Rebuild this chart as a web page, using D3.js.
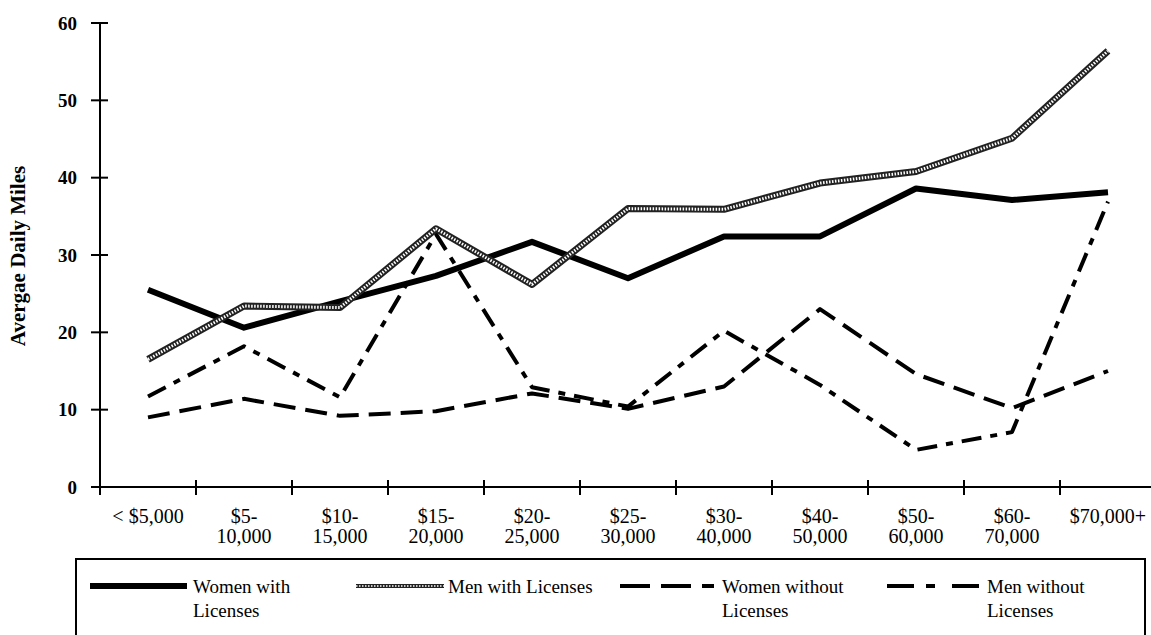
<!DOCTYPE html>
<html>
<head>
<meta charset="utf-8">
<script src="https://cdn.jsdelivr.net/npm/d3@7"></script>
<style>
  html, body { margin: 0; padding: 0; background: #fff; }
  svg { display: block; }
  text { font-family: "Liberation Serif", "Times New Roman", serif; fill: #000; }
</style>
</head>
<body>
<svg id="chart" width="1151" height="635"></svg>
<script>
// ---- data ----
const categories = ["< $5,000", "$5-\n10,000", "$10-\n15,000", "$15-\n20,000", "$20-\n25,000",
  "$25-\n30,000", "$30-\n40,000", "$40-\n50,000", "$50-\n60,000", "$60-\n70,000", "$70,000+"];
const womenWithLicenses   = [25.5, 20.6, 24.0, 27.3, 31.7, 27.0, 32.4, 32.4, 38.6, 37.1, 38.1];
const menWithLicenses     = [16.5, 23.4, 23.2, 33.4, 26.2, 36.0, 35.9, 39.3, 40.8, 45.1, 56.4];
const womenWithoutLicenses= [9.0, 11.4, 9.2, 9.8, 12.1, 10.1, 13.0, 23.0, 14.6, 10.2, 15.0];
const menWithoutLicenses  = [11.7, 18.2, 11.6, 32.7, 12.9, 10.4, 20.2, 13.2, 4.8, 7.1, 36.9];
const yTicks = [0, 10, 20, 30, 40, 50, 60];
const seriesNames = ["Women with\nLicenses", "Men with Licenses", "Women without\nLicenses", "Men without\nLicenses"];

// ---- layout ----
const svg = d3.select("#chart");
const x = d3.scaleBand().domain(categories).range([100, 1156]);
const y = d3.scaleLinear().domain([0, 60]).range([487, 23]);

// axes
const g = svg.append("g");
g.append("line").attr("x1", 100).attr("x2", 100).attr("y1", y(60)).attr("y2", y(0) + 8)
  .attr("stroke", "#000").attr("stroke-width", 2);
g.append("line").attr("x1", 92).attr("x2", 1151).attr("y1", y(0)).attr("y2", y(0))
  .attr("stroke", "#000").attr("stroke-width", 2);

// y ticks
yTicks.forEach(v => {
  g.append("line").attr("x1", 91).attr("x2", 108).attr("y1", y(v)).attr("y2", y(v))
    .attr("stroke", "#000").attr("stroke-width", 2);
  g.append("text").attr("x", 77).attr("y", y(v)).attr("dy", "0.35em")
    .attr("text-anchor", "end").attr("font-size", 19).attr("font-weight", "bold").text(v);
});

// x ticks at band boundaries
categories.forEach((c, i) => {
  const bx = x(c);
  if (i > 0) {
    g.append("line").attr("x1", bx).attr("x2", bx).attr("y1", y(0) - 7).attr("y2", y(0) + 8)
      .attr("stroke", "#000").attr("stroke-width", 2);
  }
  const cx = bx + x.bandwidth() / 2;
  const lines = c.split("\n");
  const t = g.append("text").attr("text-anchor", "middle").attr("font-size", 20);
  lines.forEach((ln, j) => {
    t.append("tspan").attr("x", cx).attr("y", 523 + j * 20).text(ln);
  });
});

// y title
svg.append("text")
  .attr("transform", "translate(25,256) rotate(-90)")
  .attr("text-anchor", "middle").attr("font-size", 21).attr("font-weight", "bold")
  .text("Avergae Daily Miles");

// ---- lines ----
const cx = (i) => x(categories[i]) + x.bandwidth() / 2;
const lineGen = d3.line().x((d, i) => cx(i)).y(d => y(d));

const plot = svg.append("g").attr("fill", "none").attr("stroke-linejoin", "round");

plot.append("path").datum(womenWithoutLicenses).attr("d", lineGen)
  .attr("stroke", "#000").attr("stroke-width", 4).attr("stroke-dasharray", "22,10");
plot.append("path").datum(menWithoutLicenses).attr("d", lineGen)
  .attr("stroke", "#000").attr("stroke-width", 4).attr("stroke-dasharray", "20,9,7,9");
plot.append("path").datum(womenWithLicenses).attr("d", lineGen)
  .attr("stroke", "#000").attr("stroke-width", 6);
plot.append("path").datum(menWithLicenses).attr("d", lineGen)
  .attr("stroke", "#222").attr("stroke-width", 7);
plot.append("path").datum(menWithLicenses).attr("d", lineGen)
  .attr("stroke", "#fff").attr("stroke-width", 3).attr("stroke-dasharray", "1.5,1.5");

// ---- legend ----
const leg = svg.append("g");
leg.append("rect").attr("x", 76).attr("y", 559).attr("width", 1069).attr("height", 100)
  .attr("fill", "none").attr("stroke", "#000").attr("stroke-width", 2);

const legendItems = [
  { x1: 90, x2: 187, tx: 193, style: "women" },
  { x1: 356, x2: 444, tx: 448, style: "men" },
  { x1: 620, x2: 714, tx: 722, style: "womenNo" },
  { x1: 887, x2: 982, tx: 987, style: "menNo" }
];
legendItems.forEach((it, i) => {
  const ly = 586;
  if (it.style === "women") {
    leg.append("line").attr("x1", it.x1).attr("x2", it.x2).attr("y1", ly).attr("y2", ly)
      .attr("stroke", "#000").attr("stroke-width", 6);
  } else if (it.style === "men") {
    leg.append("line").attr("x1", it.x1).attr("x2", it.x2).attr("y1", ly).attr("y2", ly)
      .attr("stroke", "#222").attr("stroke-width", 4);
    leg.append("line").attr("x1", it.x1).attr("x2", it.x2).attr("y1", ly).attr("y2", ly)
      .attr("stroke", "#fff").attr("stroke-width", 1.5).attr("stroke-dasharray", "1.5,1.5");
  } else if (it.style === "womenNo") {
    leg.append("line").attr("x1", it.x1).attr("x2", it.x2).attr("y1", ly).attr("y2", ly)
      .attr("stroke", "#000").attr("stroke-width", 4).attr("stroke-dasharray", "30,11");
  } else {
    leg.append("line").attr("x1", it.x1).attr("x2", it.x2).attr("y1", ly).attr("y2", ly)
      .attr("stroke", "#000").attr("stroke-width", 4).attr("stroke-dasharray", "27,12,9,17");
  }
  const t = leg.append("text").attr("font-size", 19);
  seriesNames[i].split("\n").forEach((ln, j) => {
    t.append("tspan").attr("x", it.tx).attr("y", 593 + j * 24).text(ln);
  });
});
</script>
</body>
</html>
